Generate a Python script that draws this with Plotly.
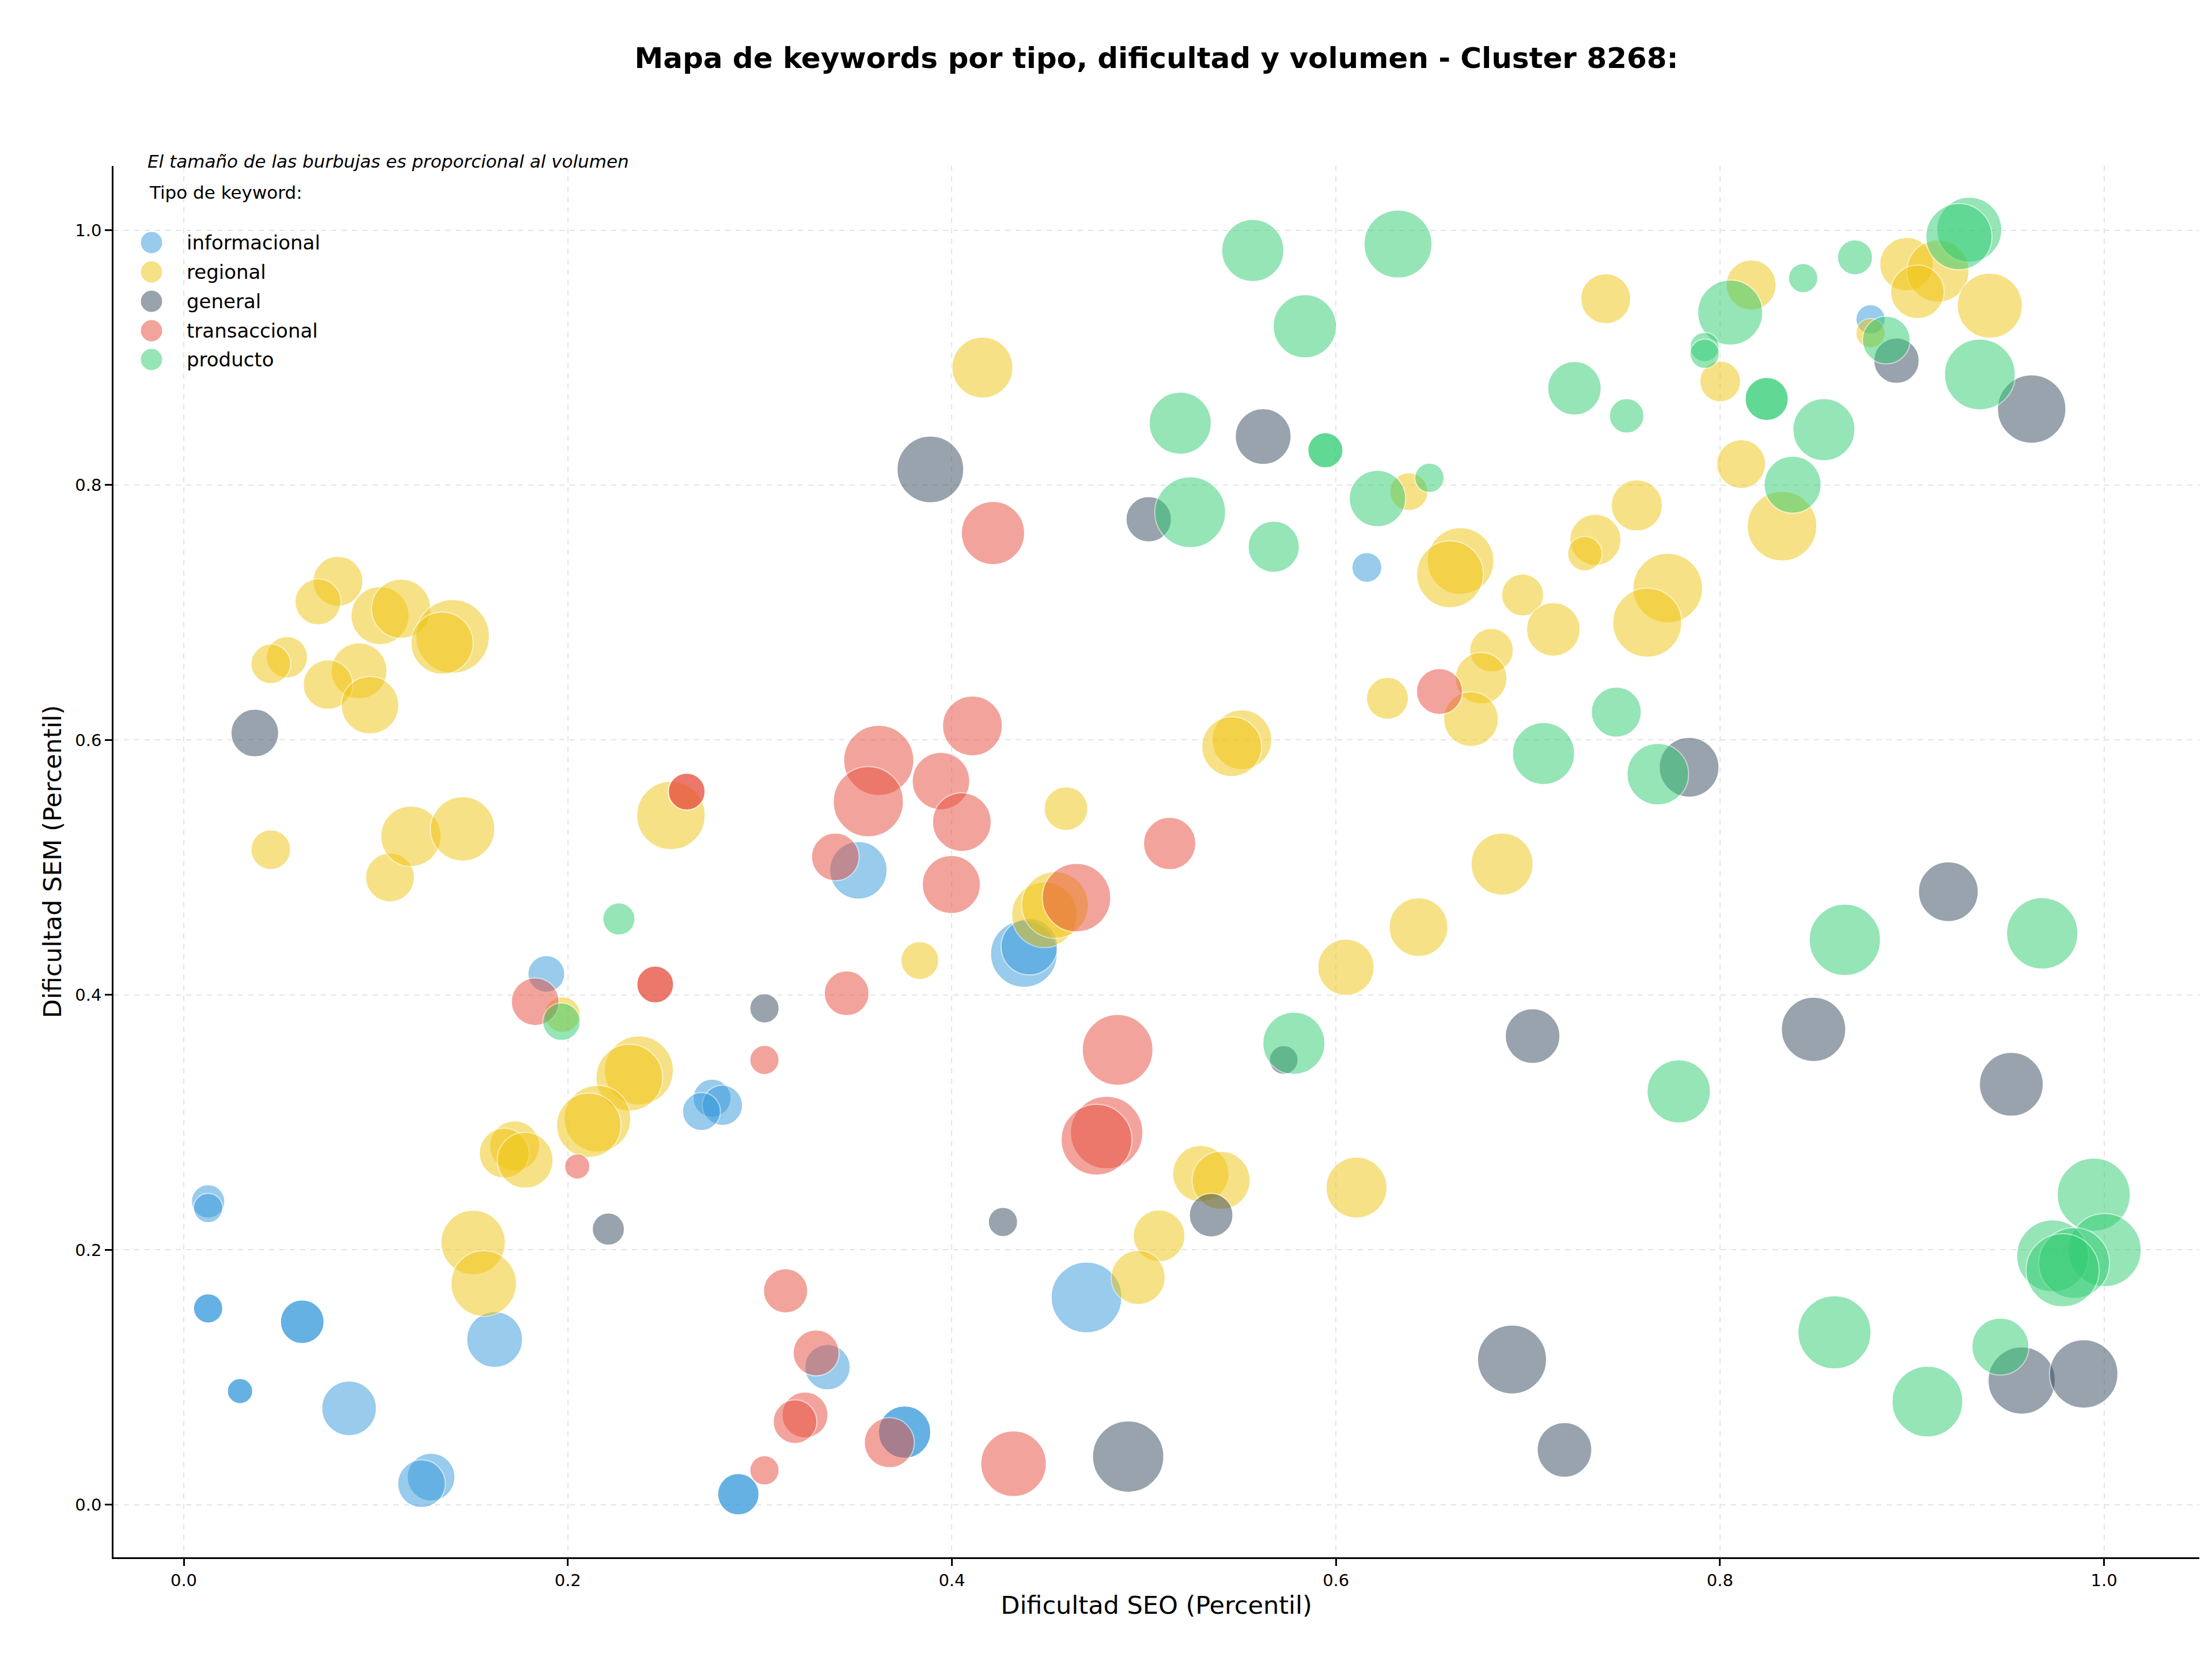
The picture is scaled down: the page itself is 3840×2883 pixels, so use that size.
import math
import plotly.graph_objects as go

# ---------------- data ----------------
categorias = ["informacional", "regional", "general", "transaccional", "producto"]
colores = ["#3498db", "#f1c40f", "#34495e", "#e74c3c", "#2ecc71"]

info_seo = [0.0127, 0.0127, 0.0127, 0.0127, 0.0617, 0.0617, 0.0293, 0.0293, 0.0861, 0.1288,
            0.1238, 0.1619, 0.1888, 0.2751, 0.2805, 0.2696, 0.2888, 0.2888, 0.3352, 0.3754,
            0.3754, 0.3513, 0.4375, 0.4403, 0.4701, 0.6161, 0.8784]
info_sem = [0.2380, 0.2328, 0.1541, 0.1541, 0.1436, 0.1436, 0.0892, 0.0892, 0.0757, 0.0217,
            0.0165, 0.1297, 0.4165, 0.3190, 0.3134, 0.3085, 0.0083, 0.0083, 0.1080, 0.0570,
            0.0570, 0.4978, 0.4322, 0.4378, 0.1627, 0.7354, 0.9300]
info_vol = [841, 650, 650, 650, 1444, 1444, 484, 484, 2256, 1722,
            1722, 2352, 1024, 1089, 1225, 1089, 1296, 1296, 1560, 2070,
            2070, 2500, 3364, 2401, 3782, 676, 650]

reg_seo = [0.0803, 0.0699, 0.1022, 0.1132, 0.1400, 0.1345, 0.0537, 0.0453, 0.0913, 0.0751,
           0.0970, 0.0453, 0.1074, 0.1183, 0.1452, 0.2537, 0.1972, 0.2370, 0.2320, 0.2154,
           0.2109, 0.1723, 0.1669, 0.1778, 0.1507, 0.1562, 0.3833, 0.4482, 0.4537, 0.4594,
           0.5296, 0.5402, 0.6107, 0.5079, 0.4970, 0.6865, 0.6430, 0.6052, 0.4159, 0.6380,
           0.6649, 0.6594, 0.6972, 0.7132, 0.6810, 0.6756, 0.6268, 0.6703, 0.5510, 0.5457,
           0.8971, 0.9135, 0.9028, 0.9405, 0.8162, 0.7405, 0.8784, 0.8001, 0.8110, 0.8323,
           0.7567, 0.7351, 0.7296, 0.7728, 0.7621]
reg_sem = [0.7245, 0.7084, 0.6976, 0.7030, 0.6813, 0.6760, 0.6650, 0.6597, 0.6543, 0.6435,
           0.6273, 0.5140, 0.4922, 0.5245, 0.5303, 0.5408, 0.3846, 0.3407, 0.3351, 0.3029,
           0.2977, 0.2815, 0.2759, 0.2703, 0.2058, 0.1736, 0.4270, 0.4629, 0.4706, 0.5462,
           0.2598, 0.2545, 0.2489, 0.2110, 0.1784, 0.5027, 0.4532, 0.4217, 0.8922, 0.7948,
           0.7404, 0.7300, 0.7138, 0.6868, 0.6705, 0.6485, 0.6327, 0.6164, 0.6002, 0.5948,
           0.9733, 0.9679, 0.9516, 0.9408, 0.9570, 0.9462, 0.9192, 0.8813, 0.8165, 0.7678,
           0.7841, 0.7570, 0.7462, 0.7192, 0.6921]
reg_vol = [1892, 1600, 2550, 2652, 4096, 2916, 1296, 1190, 2352, 1849,
           2500, 1190, 1806, 2756, 3136, 3540, 961, 3600, 3364, 3364,
           3136, 1892, 1892, 2352, 3136, 3249, 1089, 3249, 3364, 1444,
           2401, 2550, 2809, 2025, 2209, 2916, 2601, 2401, 2809, 1089,
           3364, 3364, 1332, 2162, 1444, 2025, 1332, 2256, 2704, 2704,
           2162, 2916, 2162, 3192, 1892, 1892, 650, 1260, 1806, 3660,
           1980, 1980, 900, 3660, 3600]

gen_seo = [0.0370, 0.3024, 0.2211, 0.4266, 0.5350, 0.5728, 0.4918, 0.6917, 0.7190, 0.7024,
           0.8487, 0.9189, 0.9517, 0.9571, 0.9894, 0.3888, 0.5025, 0.5621, 0.7839, 0.8919,
           0.9623]
gen_sem = [0.6055, 0.3895, 0.2163, 0.2219, 0.2272, 0.3490, 0.0378, 0.1140, 0.0431, 0.3677,
           0.3730, 0.4810, 0.3299, 0.0975, 0.1027, 0.8123, 0.7732, 0.8381, 0.5786, 0.8976,
           0.8597]
gen_vol = [1722, 650, 784, 650, 1444, 625, 3844, 3600, 2256, 2256,
           3136, 2704, 3080, 3422, 3540, 3364, 1560, 2352, 2704, 1560,
           3540]

tra_seo = [0.2619, 0.2619, 0.2455, 0.2455, 0.1830, 0.3452, 0.3024, 0.2049, 0.3134, 0.3293,
           0.3235, 0.3183, 0.3024, 0.3674, 0.4321, 0.4863, 0.4806, 0.4753, 0.3393, 0.3997,
           0.5134, 0.4649, 0.4214, 0.6539, 0.3619, 0.3565, 0.4107, 0.3943, 0.4052]
tra_sem = [0.5595, 0.5595, 0.4082, 0.4082, 0.3947, 0.4013, 0.3490, 0.2654, 0.1679, 0.1192,
           0.0705, 0.0652, 0.0270, 0.0487, 0.0322, 0.3569, 0.2920, 0.2864, 0.5083, 0.4866,
           0.5188, 0.4763, 0.7624, 0.6381, 0.5840, 0.5516, 0.6111, 0.5678, 0.5356]
tra_vol = [1024, 1024, 1024, 1024, 1722, 1521, 650, 484, 1482, 1600,
           1600, 1444, 650, 1892, 3249, 3782, 3969, 3782, 1722, 2550,
           2070, 3540, 3025, 1600, 3721, 3721, 2704, 2500, 2601]

pro_seo = [0.2266, 0.1967, 0.5781, 0.5567, 0.6323, 0.5838, 0.5189, 0.5945, 0.5945, 0.5241,
           0.5676, 0.6216, 0.6487, 0.7081, 0.7460, 0.7676, 0.7242, 0.7514, 0.8053, 0.7920,
           0.7920, 0.8243, 0.8243, 0.8703, 0.8433, 0.8866, 0.9298, 0.9244, 0.9353, 0.8541,
           0.8378, 0.8650, 0.9678, 0.7785, 0.9946, 1.0003, 0.9732, 0.9844, 0.9784, 0.8596,
           0.9460, 0.9080]
pro_sem = [0.4596, 0.3790, 0.3621, 0.9841, 0.9891, 0.9246, 0.8486, 0.8273, 0.8273, 0.7787,
           0.7516, 0.7895, 0.8057, 0.5894, 0.6219, 0.5732, 0.8759, 0.8543, 0.9354, 0.9084,
           0.9030, 0.8676, 0.8676, 0.9787, 0.9624, 0.9138, 1.0003, 0.9949, 0.8868, 0.8435,
           0.8003, 0.4432, 0.4483, 0.3243, 0.2433, 0.1998, 0.1953, 0.1897, 0.1840, 0.1353,
           0.1241, 0.0810]
pro_vol = [784, 1056, 2916, 2916, 3481, 3025, 2916, 930, 930, 3782,
           1980, 2401, 650, 2916, 1892, 2862, 2162, 900, 3192, 650,
           650, 1406, 1406, 930, 650, 1722, 3192, 3306, 3782, 2916,
           2450, 3844, 3844, 3025, 4032, 4032, 3906, 3782, 4032, 4032,
           2450, 3782]

titulo = "Mapa de keywords por tipo, dificultad y volumen - Cluster 8268:"
nota = "El tamaño de las burbujas es proporcional al volumen"
titulo_leyenda = "Tipo de keyword:"
x_label = "Dificultad SEO (Percentil)"
y_label = "Dificultad SEM (Percentil)"
x_ticks = [0.0, 0.2, 0.4, 0.6, 0.8, 1.0]
y_ticks = [0.0, 0.2, 0.4, 0.6, 0.8, 1.0]

series = [
    (info_seo, info_sem, info_vol),
    (reg_seo, reg_sem, reg_vol),
    (gen_seo, gen_sem, gen_vol),
    (tra_seo, tra_sem, tra_vol),
    (pro_seo, pro_sem, pro_vol),
]

# ---------------- figure ----------------
PAGE_OFF = 8                      # default body margin of the html page
W, H = 3840 - PAGE_OFF, 2883 - PAGE_OFF
# plot-area edges in page pixels
L_PAGE, R_PAGE, T_PAGE, B_PAGE = 197, 3818, 288, 2703
ML = L_PAGE - PAGE_OFF
MT = T_PAGE - PAGE_OFF
MR = (PAGE_OFF + W) - R_PAGE
MB = (PAGE_OFF + H) - B_PAGE
FONT = "DejaVu Sans"
ALPHA = 0.5

fig = go.Figure()
for cat, col, (xs, ys, vs) in zip(categorias, colores, series):
    fig.add_trace(go.Scatter(
        x=xs, y=ys, mode="markers", name=cat, showlegend=False,
        marker=dict(size=[2.0 * math.sqrt(v) for v in vs], sizemode="diameter",
                    color=col, opacity=ALPHA,
                    line=dict(color="white", width=2)),
        hovertemplate=cat + "<br>SEO %{x:.2f}<br>SEM %{y:.2f}<extra></extra>",
    ))

axis_common = dict(
    showline=True, linecolor="black", linewidth=2.7, mirror=False,
    ticks="outside", ticklen=12, tickwidth=2.7, tickcolor="black",
    showgrid=True, gridcolor="#e4e4e4", griddash="dash", gridwidth=2,
    zeroline=False, tickfont=dict(family=FONT, size=29, color="black"),
    tickformat=".1f",
)
fig.update_xaxes(range=[-0.0366, 1.0496], tickvals=x_ticks,
                 title=dict(text=x_label, font=dict(family=FONT, size=43, color="black"), standoff=13),
                 **axis_common)
fig.update_yaxes(range=[-0.0412, 1.0504], tickvals=y_ticks,
                 title=dict(text=y_label, font=dict(family=FONT, size=43, color="black"), standoff=11),
                 **axis_common)

# manual legend (large markers like the reference); positions given in page pixels
pw, ph = R_PAGE - L_PAGE, B_PAGE - T_PAGE
def px_x(p):
    return (p - L_PAGE) / pw
def px_y(p):
    return (B_PAGE - p) / ph

shapes = []
annotations = []
row_y = [421, 472, 523, 574, 624]
r = 19.5
for cat, col, yy in zip(categorias, colores, row_y):
    cx = 263
    shapes.append(dict(type="circle", xref="paper", yref="paper",
                       x0=px_x(cx - r), x1=px_x(cx + r), y0=px_y(yy + r), y1=px_y(yy - r),
                       fillcolor=col, opacity=ALPHA, line=dict(color="white", width=2)))
    annotations.append(dict(text=cat, xref="paper", yref="paper", x=px_x(322), y=px_y(yy),
                            xanchor="left", yanchor="middle", showarrow=False,
                            font=dict(family=FONT, size=34, color="black")))
annotations.append(dict(text=titulo_leyenda, xref="paper", yref="paper", x=px_x(257), y=px_y(334),
                        xanchor="left", yanchor="middle", showarrow=False,
                        font=dict(family=FONT, size=31, color="black")))
annotations.append(dict(text=nota, xref="paper", yref="paper", x=px_x(254), y=px_y(280),
                        xanchor="left", yanchor="middle", showarrow=False,
                        font=dict(family=FONT, size=31, color="black", style="italic")))

fig.update_layout(
    width=W, height=H, autosize=False,
    margin=dict(l=ML, r=MR, t=MT, b=MB),
    paper_bgcolor="white", plot_bgcolor="white",
    title=dict(text="<b>" + titulo + "</b>", x=0.5, xref="paper", xanchor="center",
               y=1 - (100 - PAGE_OFF) / H, yref="container", yanchor="middle",
               font=dict(family=FONT, size=50, color="black")),
    shapes=shapes, annotations=annotations,
    showlegend=False,
)

fig.write_html("out.html")
